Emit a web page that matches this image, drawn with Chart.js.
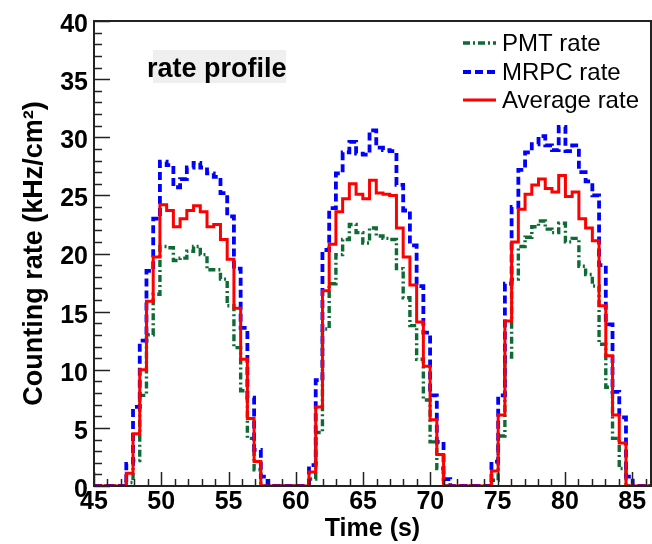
<!DOCTYPE html>
<html>
<head>
<meta charset="utf-8">
<script src="https://cdn.jsdelivr.net/npm/chart.js@4.4.1/dist/chart.umd.min.js"></script>
<style>
  html, body { margin: 0; padding: 0; background: #fff; }
  #wrap { width: 652px; height: 544px; position: relative; }
</style>
</head>
<body>
<div id="wrap"><canvas id="rateChart"></canvas></div>
<script>
// Datos: tres pulsos, bins de 0.5 s
const pulseStart = [47.4, 60.98, 74.54];
const binWidth = 0.5;

const pmtRate = [
  [0.3, 2.2, 7.8, 13.0, 16.5, 20.6, 20.5, 19.4, 19.6, 20.2, 20.6, 19.9, 18.6, 18.6, 17.8, 15.5, 11.9, 8.2, 4.1, 1.4],
  [0.6, 4.6, 13.5, 17.4, 19.9, 21.2, 22.5, 21.8, 20.9, 22.2, 21.5, 21.3, 21.2, 18.7, 16.2, 13.8, 10.9, 7.4, 3.8, 1.5],
  [0.5, 4.3, 11.1, 17.8, 20.6, 21.4, 22.3, 22.8, 22.1, 21.8, 22.6, 21.0, 21.3, 18.9, 18.2, 17.2, 12.2, 8.5, 4.1, 1.5]
];
const mrpcRate = [
  [1.9, 6.8, 12.5, 18.5, 23.0, 27.9, 27.6, 25.7, 26.4, 27.4, 27.8, 27.4, 26.9, 26.6, 25.2, 23.2, 18.7, 13.6, 7.6, 3.1, 0.8],
  [1.8, 9.1, 20.3, 23.9, 26.9, 28.7, 29.6, 28.6, 28.5, 30.6, 29.1, 28.9, 28.8, 25.9, 23.7, 20.7, 17.2, 13.2, 7.8, 3.8, 0.6],
  [2.1, 7.8, 17.4, 24.0, 27.2, 28.7, 29.4, 30.1, 29.3, 28.9, 30.9, 28.8, 29.3, 27.0, 26.2, 25.0, 19.0, 13.9, 8.1, 5.9, 0.8]
];
const averageRate = [
  [1.1, 4.5, 10.0, 15.9, 19.7, 24.2, 23.7, 22.3, 23.0, 23.7, 24.1, 23.6, 22.3, 22.5, 21.2, 19.5, 15.3, 10.9, 5.8, 2.1],
  [1.2, 6.8, 16.8, 20.8, 23.6, 24.7, 26.0, 25.1, 24.7, 26.3, 25.2, 25.1, 25.0, 22.2, 19.7, 17.3, 14.1, 10.3, 5.7, 2.7],
  [1.3, 6.1, 14.2, 21.0, 23.8, 25.1, 25.9, 26.4, 25.6, 25.3, 26.7, 24.9, 25.3, 23.0, 22.2, 21.1, 15.5, 11.2, 6.1, 3.7]
];

const seriesNames = ['PMT rate', 'MRPC rate', 'Average rate'];
const xMin = 45, xMax = 86.4, xStep = 5;
const yMin = 0, yMax = 40, yStep = 5;

const FONT = "'Liberation Sans', Arial, Helvetica, sans-serif";
const GREEN = '#0d6b35', BLUE = '#0000ff', RED = '#ff0000';

// Convierte los bins en puntos para una línea escalonada
function pasos(pulsos) {
  const pts = [{ x: xMin, y: 0 }];
  pulsos.forEach((vals, p) => {
    vals.forEach((v, i) => pts.push({ x: pulseStart[p] + i * binWidth, y: v }));
    pts.push({ x: pulseStart[p] + vals.length * binWidth, y: 0 });
  });
  pts.push({ x: xMax, y: 0 });
  return pts;
}

const estilos = [
  { color: GREEN, dash: [7, 3, 2, 3], width: 3.4 },
  { color: BLUE, dash: [8, 4], width: 3.8 },
  { color: RED, dash: [], width: 3 }
];

// Marco, marcas hacia dentro, leyenda y rótulo
const marcoRoot = {
  id: 'marcoRoot',
  afterDatasetsDraw(chart) {
    const { ctx, chartArea: a, scales } = chart;
    const x = scales.x, y = scales.y;
    ctx.save();
    ctx.strokeStyle = '#222';
    ctx.lineWidth = 1.5;
    for (let v = yMin; v <= yMax; v++) {
      const py = Math.round(y.getPixelForValue(v)) + 0.5;
      const len = v % yStep === 0 ? 16 : 8;
      ctx.beginPath(); ctx.moveTo(a.left, py); ctx.lineTo(a.left + len, py); ctx.stroke();
    }
    for (let v = xMin; v <= xMax; v++) {
      const px = Math.round(x.getPixelForValue(v)) + 0.5;
      const len = v % xStep === 0 ? 14 : 7;
      ctx.beginPath(); ctx.moveTo(px, a.bottom); ctx.lineTo(px, a.bottom - len); ctx.stroke();
    }
    ctx.lineWidth = 2;
    ctx.strokeRect(a.left, a.top, a.right - a.left, a.bottom - a.top);
    ctx.restore();
  },
  afterDraw(chart) {
    const { ctx } = chart;
    ctx.save();
    // rótulo "rate profile"
    ctx.fillStyle = '#efefef';
    ctx.fillRect(153, 50, 133, 33);
    ctx.fillStyle = '#000';
    ctx.font = 'bold 27px ' + FONT;
    ctx.textBaseline = 'alphabetic';
    ctx.fillText('rate profile', 147, 77);
    // leyenda
    ctx.font = '24px ' + FONT;
    const filas = [43, 72, 100];
    seriesNames.forEach((nombre, i) => {
      const e = estilos[i];
      ctx.strokeStyle = e.color;
      ctx.lineWidth = e.width;
      ctx.setLineDash(e.dash);
      ctx.beginPath(); ctx.moveTo(463, filas[i]); ctx.lineTo(496, filas[i]); ctx.stroke();
      ctx.setLineDash([]);
      ctx.fillStyle = '#000';
      ctx.textBaseline = 'middle';
      ctx.fillText(nombre, 502, filas[i] + 1);
    });
    ctx.restore();
  }
};

const datos = [pmtRate, mrpcRate, averageRate];
const ctx = document.getElementById('rateChart').getContext('2d');
const grafico = new Chart(ctx, {
  type: 'line',
  data: {
    datasets: datos.map((serie, i) => ({
      label: seriesNames[i],
      data: pasos(serie),
      borderColor: estilos[i].color,
      borderDash: estilos[i].dash,
      borderWidth: estilos[i].width,
      stepped: 'before',
      pointRadius: 0,
      fill: false,
      order: 2 - i
    }))
  },
  options: {
    responsive: true,
    maintainAspectRatio: false,
    animation: false,
    layout: { padding: { top: 18, right: 1, left: 0, bottom: 0 } },
    plugins: { legend: { display: false }, tooltip: { enabled: false } },
    scales: {
      x: {
        type: 'linear',
        min: xMin,
        max: xMax,
        afterFit(s) { s.height = 58; },
        grid: { display: false, drawTicks: false },
        border: { display: false },
        ticks: {
          stepSize: xStep,
          includeBounds: false,
          padding: 1,
          color: '#000',
          font: { family: FONT, size: 25, weight: 'bold' },
          maxRotation: 0
        },
        title: {
          display: true,
          text: 'Time (s)',
          color: '#000',
          font: { family: FONT, size: 25, weight: 'bold' },
          padding: { top: 0, bottom: 0 }
        }
      },
      y: {
        type: 'linear',
        min: yMin,
        max: yMax,
        afterFit(s) { s.width = 94; },
        grid: { display: false, drawTicks: false },
        border: { display: false },
        ticks: {
          stepSize: yStep,
          padding: 6,
          labelOffset: 4,
          color: '#000',
          font: { family: FONT, size: 25, weight: 'bold' }
        },
        title: {
          display: true,
          text: 'Counting rate (kHz/cm²)',
          color: '#000',
          font: { family: FONT, size: 27, weight: 'bold' },
          padding: { top: 18, bottom: 0 }
        }
      }
    }
  },
  plugins: [marcoRoot]
});
</script>
</body>
</html>
